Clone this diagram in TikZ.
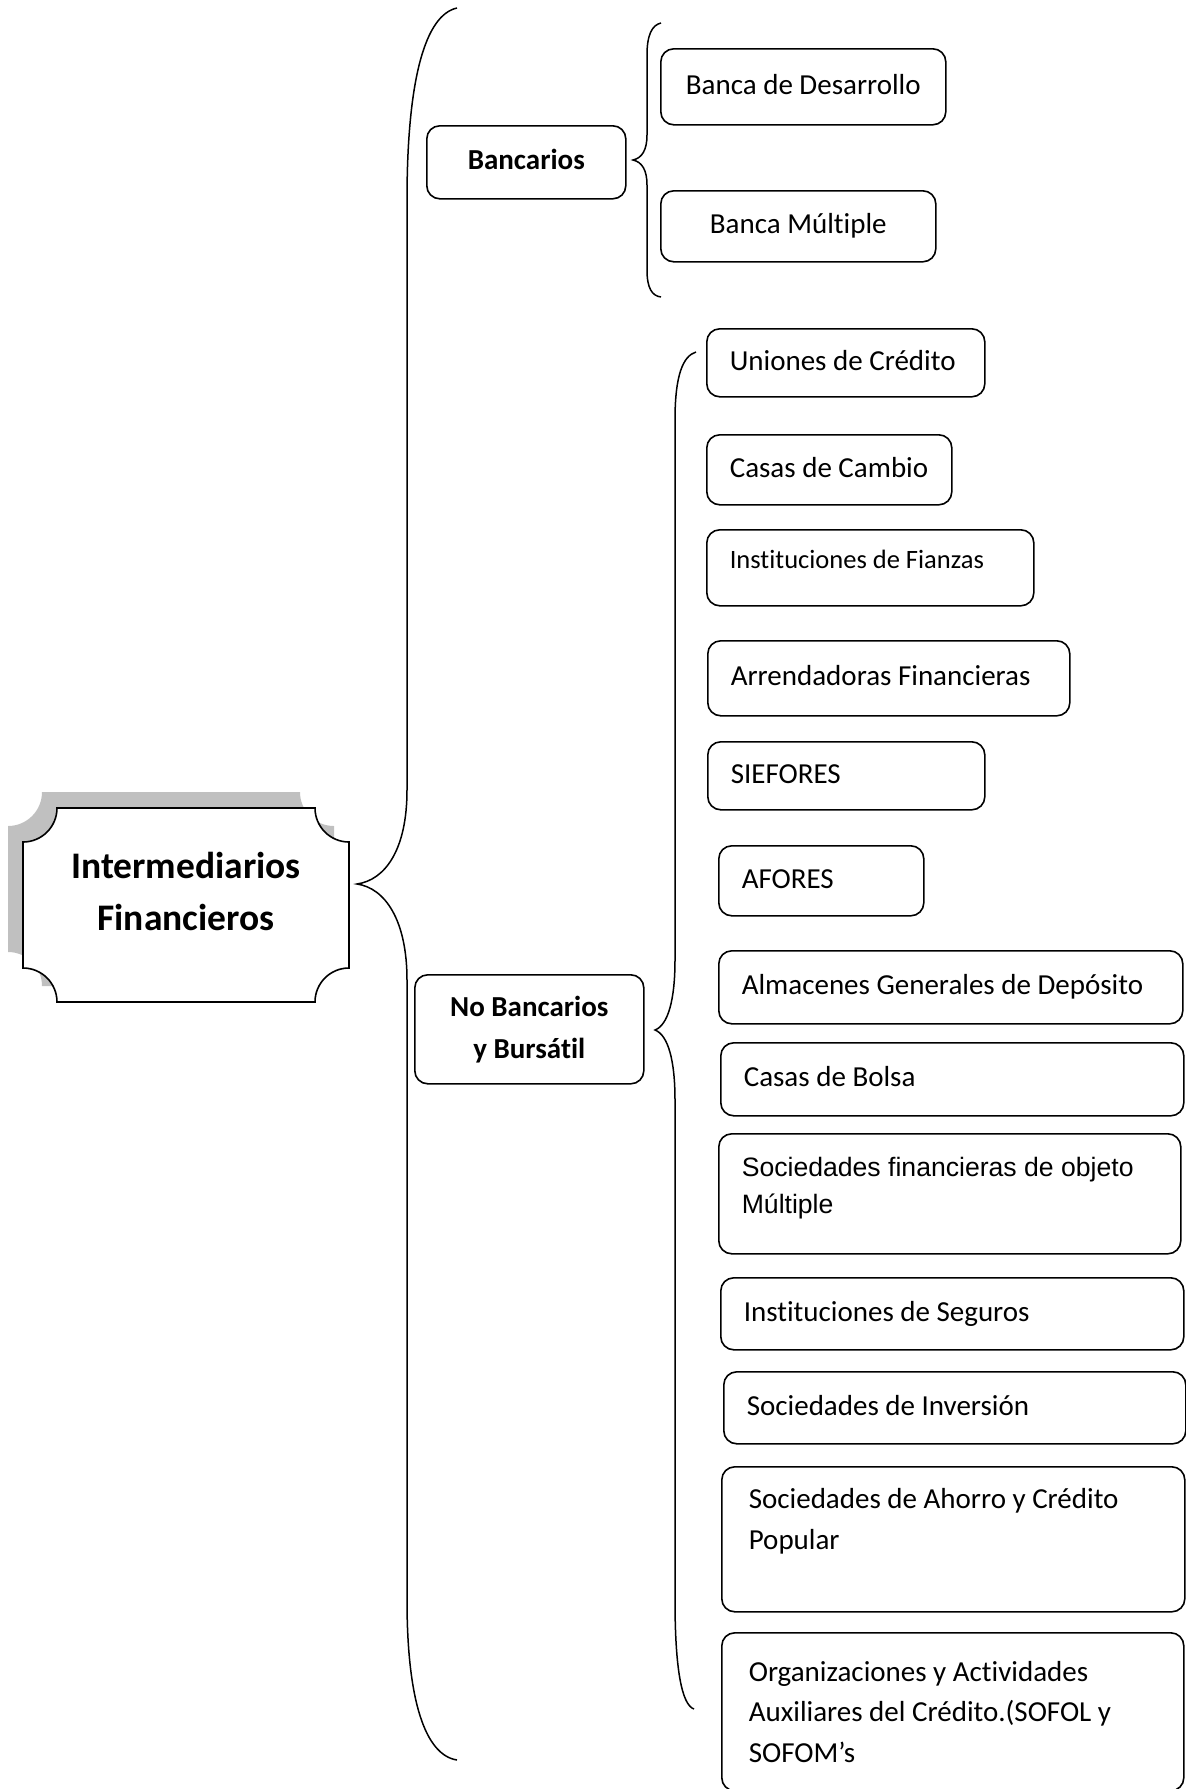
\documentclass[tikz,border=0pt]{standalone}
\usepackage{fontspec}
\setmainfont{Carlito}[Ligatures=NoCommon]
\newfontfamily\arialfont{Liberation Sans}
\usepackage{tikz}
\definecolor{sombra}{HTML}{C0C0C0}

\begin{document}
\begin{tikzpicture}[
    x=1pt, y=-1pt,
    caja/.style={draw, line width=1.6pt, rounded corners=13pt, anchor=north west,
                 inner xsep=23pt, inner ysep=0pt, align=flush left,
                 font=\fontsize{29}{41}\selectfont},
    uno/.style={text height=22pt, text depth=7pt},
    grupo/.style={caja, align=flush center, font=\bfseries\fontsize{29}{42}\selectfont},
    llave/.style={line width=1.5pt},
    placa/.pic={
      \path[pic actions] (0,34) .. controls (18.8,34) and (34,18.8) .. (34,0)
        -- (292,0) .. controls (292,18.8) and (307.2,34) .. (326,34)
        -- (326,160) .. controls (307.2,160) and (292,175.2) .. (292,194)
        -- (34,194) .. controls (34,175.2) and (18.8,160) .. (0,160) -- cycle;
    }
  ]
    \useasboundingbox (0,0) rectangle (1186,1789);

    % main plaque with its shadow
    \pic[fill=sombra] at (8,792) {placa};
    \pic[draw, fill=white, line width=1.6pt] at (23,808) {placa};
    \node[font=\bfseries\fontsize{37.5}{52}\selectfont, align=center] (inter) at (186,891) {Intermediarios\\Financieros};

    % second level
    \node[grupo, uno, minimum height=73pt, text width=153pt] (bancarios) at (426,125) {Bancarios};
    \node[grupo, minimum height=109pt, text width=183pt] (nobancarios) at (414,974) {No Bancarios\\y Bursátil};

    % bancarios
    \node[caja, uno, align=flush center, inner xsep=12pt, minimum height=76pt, text width=261pt] (desarrollo) at (660,48) {Banca de Desarrollo};
    \node[caja, uno, align=flush center, inner xsep=12pt, minimum height=71pt, text width=251pt] (multiple) at (660,190) {Banca Múltiple};

    % no bancarios
    \node[caja, uno, minimum height=68pt, text width=232pt] (uniones) at (706,328) {Uniones de Crédito};
    \node[caja, uno, minimum height=70pt, text width=199pt] (cambio) at (706,434) {Casas de Cambio};
    \node[caja, text height=20pt, text depth=18pt, font=\fontsize{26.5}{36}\selectfont,
          minimum height=76pt, text width=281pt] (fianzas) at (706,529) {Instituciones de Fianzas};
    \node[caja, uno, minimum height=75pt, text width=316pt] (arrendadoras) at (707,640) {Arrendadoras Financieras};
    \node[caja, uno, minimum height=68pt, text width=231pt] (siefores) at (707,741) {SIEFORES};
    \node[caja, uno, minimum height=70pt, text width=159pt] (afores) at (718,845) {AFORES};
    \node[caja, uno, minimum height=73pt, text width=418pt] (almacenes) at (718,950) {Almacenes Generales de Depósito};
    \node[caja, uno, minimum height=73pt, text width=417pt] (bolsa) at (720,1042) {Casas de Bolsa};
    \node[caja, font=\arialfont\fontsize{26.6}{37}\selectfont, minimum height=120pt, text width=416pt]
          (sofom) at (718,1133) {Sociedades financieras de objeto\\Múltiple\\[-20pt]\mbox{}};
    \node[caja, uno, minimum height=72pt, text width=417pt] (seguros) at (720,1277) {Instituciones de Seguros};
    \node[caja, uno, minimum height=72pt, text width=416pt] (inversion) at (723,1371) {Sociedades de Inversión};
    \node[caja, inner xsep=27pt, minimum height=145pt, text width=409pt] (ahorro) at (721,1466)
          {Sociedades de Ahorro y Crédito\\Popular\\\mbox{}};
    \node[caja, inner xsep=27pt, font=\fontsize{29}{40.5}\selectfont, minimum height=158pt, text width=408pt]
          (auxiliares) at (721,1632) {Organizaciones y Actividades\\Auxiliares del Crédito.(SOFOL y\\SOFOM’s};

    % braces
    \draw[llave] (457,8) .. controls (425,15) and (407,80) .. (407,200) -- (407,790)
      .. controls (407,850) and (385,880) .. (357,884)
      .. controls (385,888) and (407,920) .. (407,980) -- (407,1600)
      .. controls (407,1700) and (425,1755) .. (457,1760);
    \draw[llave] (661,23) .. controls (652,25) and (647,35) .. (647,55) -- (647,135)
      .. controls (647,150) and (642,158) .. (633,160)
      .. controls (642,162) and (647,170) .. (647,185) -- (647,270)
      .. controls (647,288) and (652,296) .. (661,297);
    \draw[llave] (696,352) .. controls (683,356) and (675,375) .. (675,420) -- (675,960)
      .. controls (675,1000) and (668,1025) .. (655,1030)
      .. controls (668,1035) and (675,1060) .. (675,1100) -- (675,1600)
      .. controls (675,1670) and (682,1705) .. (694,1709);
\end{tikzpicture}
\end{document}
